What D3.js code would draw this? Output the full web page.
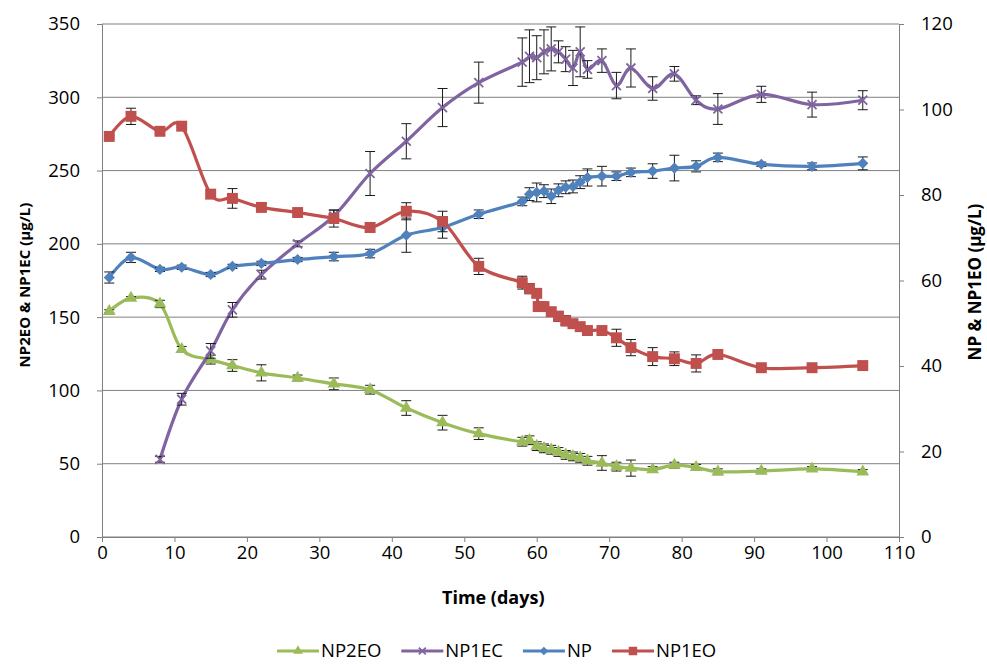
<!DOCTYPE html>
<html>
<head>
<meta charset="utf-8">
<script src="https://cdnjs.cloudflare.com/ajax/libs/d3/7.8.5/d3.min.js"></script>
<style>
body { margin: 0; background: #fff; }
text { font-family: "Open Sans", sans-serif; fill: #000; }
</style>
</head>
<body>
<div id="my_dataviz"></div>
<script>
// sampling days (NP2EO and NP share these)
const days = [1, 4, 8, 11, 15, 18, 22, 27, 32, 37, 42, 47, 52, 58, 59, 60, 61, 62, 63, 64, 65, 66, 67, 69, 71, 73, 76, 79, 82, 85, 91, 98, 105];
const np1ecDays = [8, 11, 15, 18, 22, 27, 32, 37, 42, 47, 52, 58, 59, 60, 61, 62, 63, 64, 65, 66, 67, 69, 71, 73, 76, 79, 82, 85, 91, 98, 105];
const np1eoDays = [1, 4, 8, 11, 15, 18, 22, 27, 32, 37, 42, 47, 52, 58, 59, 60, 60.2, 61, 62, 63, 64, 65, 66, 67, 69, 71, 73, 76, 79, 82, 85, 91, 98, 105];

// left axis series (µg/L)
const np2eo = [154, 163, 159, 128, 121, 117, 112, 108.5, 104.5, 100.5, 88, 78, 70.5, 65, 66, 62, 60.5, 59.5, 58, 56, 55, 54, 52, 50.5, 48, 47, 46, 49, 47.5, 44.5, 45, 46.5, 44.5];
const np2eoErr = [1, 1, 2.5, 2, 3, 4, 5.5, 2, 4, 3, 5, 5, 4, 3, 3, 3, 3, 3, 3, 3, 3, 3, 3, 5, 3, 5.5, 2, 2, 2, 2, 1.5, 1.5, 1.5];
const np1ec = [53, 94, 127, 155, 179, 200, 219, 248, 270, 293, 310, 324, 328, 327, 331, 333, 331, 326, 320, 331, 319, 325, 308, 320, 306, 316, 298, 292, 302, 295, 298];
const np1ecErr = [2, 4, 5, 5, 3, 2, 4, 15, 12, 13, 14, 16.5, 18, 15, 15, 15, 7.5, 8.5, 12, 17, 6, 8, 9, 13, 8, 5, 3, 10.5, 5.5, 8.5, 6.5];

// right axis series (µg/L)
const np = [60.7, 65.4, 62.6, 63.1, 61.4, 63.3, 64.0, 64.9, 65.6, 66.3, 70.6, 72.4, 75.5, 78.5, 80.2, 80.6, 80.9, 79.7, 81.1, 81.8, 82.0, 83.0, 84.1, 84.4, 84.4, 85.3, 85.6, 86.3, 86.7, 88.8, 87.2, 86.7, 87.4];
const npErr = [1.3, 1.2, 0.5, 0.5, 0.5, 0.5, 0.5, 0.5, 1, 1, 4, 2.5, 1, 1, 1.5, 2.2, 1.5, 1.7, 1.5, 1.5, 1.5, 1.5, 2, 2.3, 1, 1, 1.7, 3, 1.3, 1, 0.5, 0.8, 1.5];
const np1eo = [93.7, 98.4, 94.9, 96.1, 80.2, 79.2, 77.1, 75.9, 74.5, 72.4, 76.2, 73.8, 63.3, 59.5, 58.1, 57.0, 53.9, 53.9, 52.7, 51.6, 50.6, 49.9, 49.2, 48.3, 48.3, 46.6, 44.3, 42.2, 41.7, 40.6, 42.7, 39.6, 39.6, 40.1];
const np1eoErr = [0.3, 1.9, 0.3, 0.3, 1, 2.3, 1, 0.5, 2, 1, 2, 2.4, 1.9, 1.5, 1.2, 1, 1, 1, 1, 1.2, 1.2, 1, 1, 1, 0.5, 2, 1.9, 2.1, 1.6, 2, 0.5, 0.5, 0.5, 0.5];

// tick labels
const xTicks = [0, 10, 20, 30, 40, 50, 60, 70, 80, 90, 100, 110];
const leftTicks = [0, 50, 100, 150, 200, 250, 300, 350];
const rightTicks = [0, 20, 40, 60, 80, 100, 120];

const margin = {top: 24, right: 88, bottom: 127, left: 102},
  width = 987 - margin.left - margin.right,
  height = 664 - margin.top - margin.bottom;

const svg = d3.select("#my_dataviz")
  .append("svg")
  .attr("width", 987)
  .attr("height", 664)
  .append("g")
  .attr("transform", `translate(${margin.left}, ${margin.top})`);

// scales
const x = d3.scaleLinear().domain([0, 110]).range([0, width]);
const yL = d3.scaleLinear().domain([0, 350]).range([height, 0]);
const yR = d3.scaleLinear().domain([0, 120]).range([height, 0]);

// horizontal gridlines from the left axis
svg.append("g")
  .selectAll("line")
  .data(leftTicks)
  .join("line")
  .attr("x1", 0).attr("x2", width)
  .attr("y1", d => yL(d)).attr("y2", d => yL(d))
  .attr("stroke", "#808080").attr("stroke-width", 1);

// axes
const xAxis = svg.append("g")
  .attr("transform", `translate(0, ${height})`)
  .call(d3.axisBottom(x).tickValues(xTicks).tickSize(5).tickPadding(4));
const yAxisL = svg.append("g")
  .call(d3.axisLeft(yL).tickValues(leftTicks).tickSize(5).tickPadding(17));
const yAxisR = svg.append("g")
  .attr("transform", `translate(${width}, 0)`)
  .call(d3.axisRight(yR).tickValues(rightTicks).tickSize(5).tickPadding(17));

[xAxis, yAxisL, yAxisR].forEach(a => {
  a.select(".domain").attr("stroke", "#808080");
  a.selectAll(".tick line").attr("stroke", "#808080");
  a.selectAll(".tick text").style("font-size", "18.5px").style("font-family", "Open Sans");
});

// axis titles
svg.append("text")
  .attr("x", x(54)).attr("y", 574)
  .attr("text-anchor", "middle").attr("dy", "0.35em")
  .style("font-weight", "bold").style("font-size", "18px")
  .text("Time (days)");
svg.append("text")
  .attr("transform", `translate(${25 - margin.left}, ${285 - margin.top}) rotate(-90)`)
  .attr("text-anchor", "middle").attr("dy", "0.35em")
  .style("font-weight", "bold").style("font-size", "15px")
  .text("NP2EO & NP1EC (µg/L)");
svg.append("text")
  .attr("transform", `translate(${975 - margin.left}, ${282 - margin.top}) rotate(-90)`)
  .attr("text-anchor", "middle").attr("dy", "0.35em")
  .style("font-weight", "bold").style("font-size", "17px")
  .text("NP & NP1EO (µg/L)");

// a cross marker
const symbolCrossX = {
  draw(ctx, size) {
    const r = Math.sqrt(size) / 2;
    ctx.moveTo(-r, -r); ctx.lineTo(r, r);
    ctx.moveTo(r, -r); ctx.lineTo(-r, r);
  }
};

const series = [
  {name: "NP2EO", days: days, values: np2eo, err: np2eoErr, y: yL, color: "#9BBB59", symbol: d3.symbolTriangle, size: 70, rotate: 0, stroke: false},
  {name: "NP1EC", days: np1ecDays, values: np1ec, err: np1ecErr, y: yL, color: "#8064A2", symbol: symbolCrossX, size: 80, rotate: 0, stroke: true},
  {name: "NP", days: days, values: np, err: npErr, y: yR, color: "#4F81BD", symbol: d3.symbolSquare, size: 62, rotate: 45, stroke: false},
  {name: "NP1EO", days: np1eoDays, values: np1eo, err: np1eoErr, y: yR, color: "#C0504D", symbol: d3.symbolSquare, size: 120, rotate: 0, stroke: false}
];

function drawMarker(sel, s) {
  sel.attr("d", d3.symbol().type(s.symbol).size(s.size)())
    .attr("fill", s.stroke ? "none" : s.color)
    .attr("stroke", s.stroke ? s.color : "none")
    .attr("stroke-width", s.stroke ? 1.8 : 0);
}

series.forEach(s => {
  const pts = s.days.map((d, i) => ({day: d, value: s.values[i], err: s.err[i]}));
  const g = svg.append("g");

  // the smoothed line
  g.append("path")
    .datum(pts)
    .attr("fill", "none")
    .attr("stroke", s.color)
    .attr("stroke-width", 3.2)
    .attr("d", d3.line()
      .curve(d3.curveCardinal.tension(0))
      .x(d => x(d.day))
      .y(d => s.y(d.value)));

  // error bars
  const eb = g.append("g").attr("stroke", "#1a1a1a").attr("stroke-width", 1);
  eb.selectAll(".bar").data(pts).join("line")
    .attr("x1", d => x(d.day)).attr("x2", d => x(d.day))
    .attr("y1", d => s.y(d.value - d.err)).attr("y2", d => s.y(d.value + d.err));
  eb.selectAll(".capTop").data(pts).join("line").attr("class", "capTop")
    .attr("x1", d => x(d.day) - 5).attr("x2", d => x(d.day) + 5)
    .attr("y1", d => s.y(d.value + d.err)).attr("y2", d => s.y(d.value + d.err));
  eb.selectAll(".capBot").data(pts).join("line").attr("class", "capBot")
    .attr("x1", d => x(d.day) - 5).attr("x2", d => x(d.day) + 5)
    .attr("y1", d => s.y(d.value - d.err)).attr("y2", d => s.y(d.value - d.err));

  // markers
  g.selectAll(".marker").data(pts).join("path").attr("class", "marker")
    .attr("transform", d => `translate(${x(d.day)}, ${s.y(d.value)}) rotate(${s.rotate})`)
    .call(drawMarker, s);
});

// legend
const legend = svg.append("g")
  .attr("transform", `translate(${277 - margin.left}, ${651 - margin.top})`);
let lx = 0;
series.forEach(s => {
  const item = legend.append("g").attr("transform", `translate(${lx}, 0)`);
  item.append("line")
    .attr("x1", 0).attr("x2", 42)
    .attr("stroke", s.color).attr("stroke-width", 3.2);
  item.append("path")
    .attr("transform", `translate(21, 0) rotate(${s.rotate})`)
    .call(drawMarker, Object.assign({}, s, {size: s.size * 0.6}));
  const t = item.append("text")
    .attr("x", 44).attr("dy", "0.35em")
    .style("font-size", "18.5px")
    .text(s.name);
  lx += 44 + t.node().getComputedTextLength() + 20;
});
</script>
</body>
</html>
